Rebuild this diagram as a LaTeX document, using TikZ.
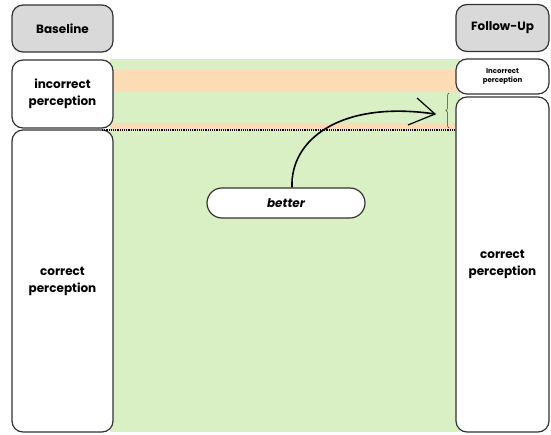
\documentclass[tikz,border=0pt]{standalone}
\usepackage{fontspec}
\setmainfont{Poppins}
\usetikzlibrary{decorations.pathreplacing,arrows.meta}
\definecolor{bggreen}{HTML}{D9F0C4}
\definecolor{peach}{HTML}{FDDBB4}
\definecolor{hdrgray}{HTML}{D9D9D9}
\definecolor{edge}{HTML}{333333}
\tikzset{
  x=1pt,y=-1pt,
  box/.style={draw=edge,line width=1.2pt,rounded corners=11pt,fill=white,align=center,font=\bfseries\fontsize{12}{17}\selectfont},
  hdr/.style={box,fill=hdrgray},
  pill/.style={draw=edge,line width=1.2pt,fill=white,rounded corners=15pt,font=\bfseries\itshape\fontsize{12}{14}\selectfont},
}
\begin{document}
\begin{tikzpicture}
\useasboundingbox (0,0) rectangle (551,434);
% background regions
\fill[bggreen] (110,59) rectangle (460,432);
\fill[peach] (110,70) rectangle (460,92);
\fill[peach] (110,123) rectangle (460,130);
% boxes
\node[hdr,minimum width=101pt,minimum height=47pt] (base) at (62.5,28.5) {Baseline};
\node[hdr,minimum width=93pt,minimum height=47pt] (fu) at (502.5,28) {Follow-Up};
\node[box,minimum width=101pt,minimum height=68pt] (linc) at (62.5,94) {incorrect\\perception};
\node[box,minimum width=101pt,minimum height=302pt] (lcor) at (62.5,281) {correct\\perception};
\node[box,minimum width=93pt,minimum height=35pt,font=\bfseries\fontsize{7}{9.5}\selectfont] (rinc) at (502.5,76.5) {Incorrect\\perception};
\node[box,minimum width=93pt,minimum height=335pt] (rcor) at (502.5,264.5) {correct\\perception};
\node[pill,minimum width=158pt,minimum height=30pt] (better) at (286,203) {better};
% dotted line
\coordinate (dl) at (102,130);
\coordinate (dr) at (rcor.west |- dl);
\draw[densely dotted,line width=1.2pt,black] (dl) -- (dr);
% brace
\coordinate (bt) at (449,93);
\coordinate (bb) at (449,128);
\draw[edge,line width=0.5pt,decorate,decoration={brace,amplitude=3pt}] (bb) -- (bt);
% arrow
\coordinate (tip) at (435,114);
\draw[line width=1.6pt,black] (better.north -| 292,0) .. controls (290,140) and (340,100) .. (tip);
\draw[line width=1.2pt,black] (417,98) -- (tip) -- (408,125);
\end{tikzpicture}
\end{document}
